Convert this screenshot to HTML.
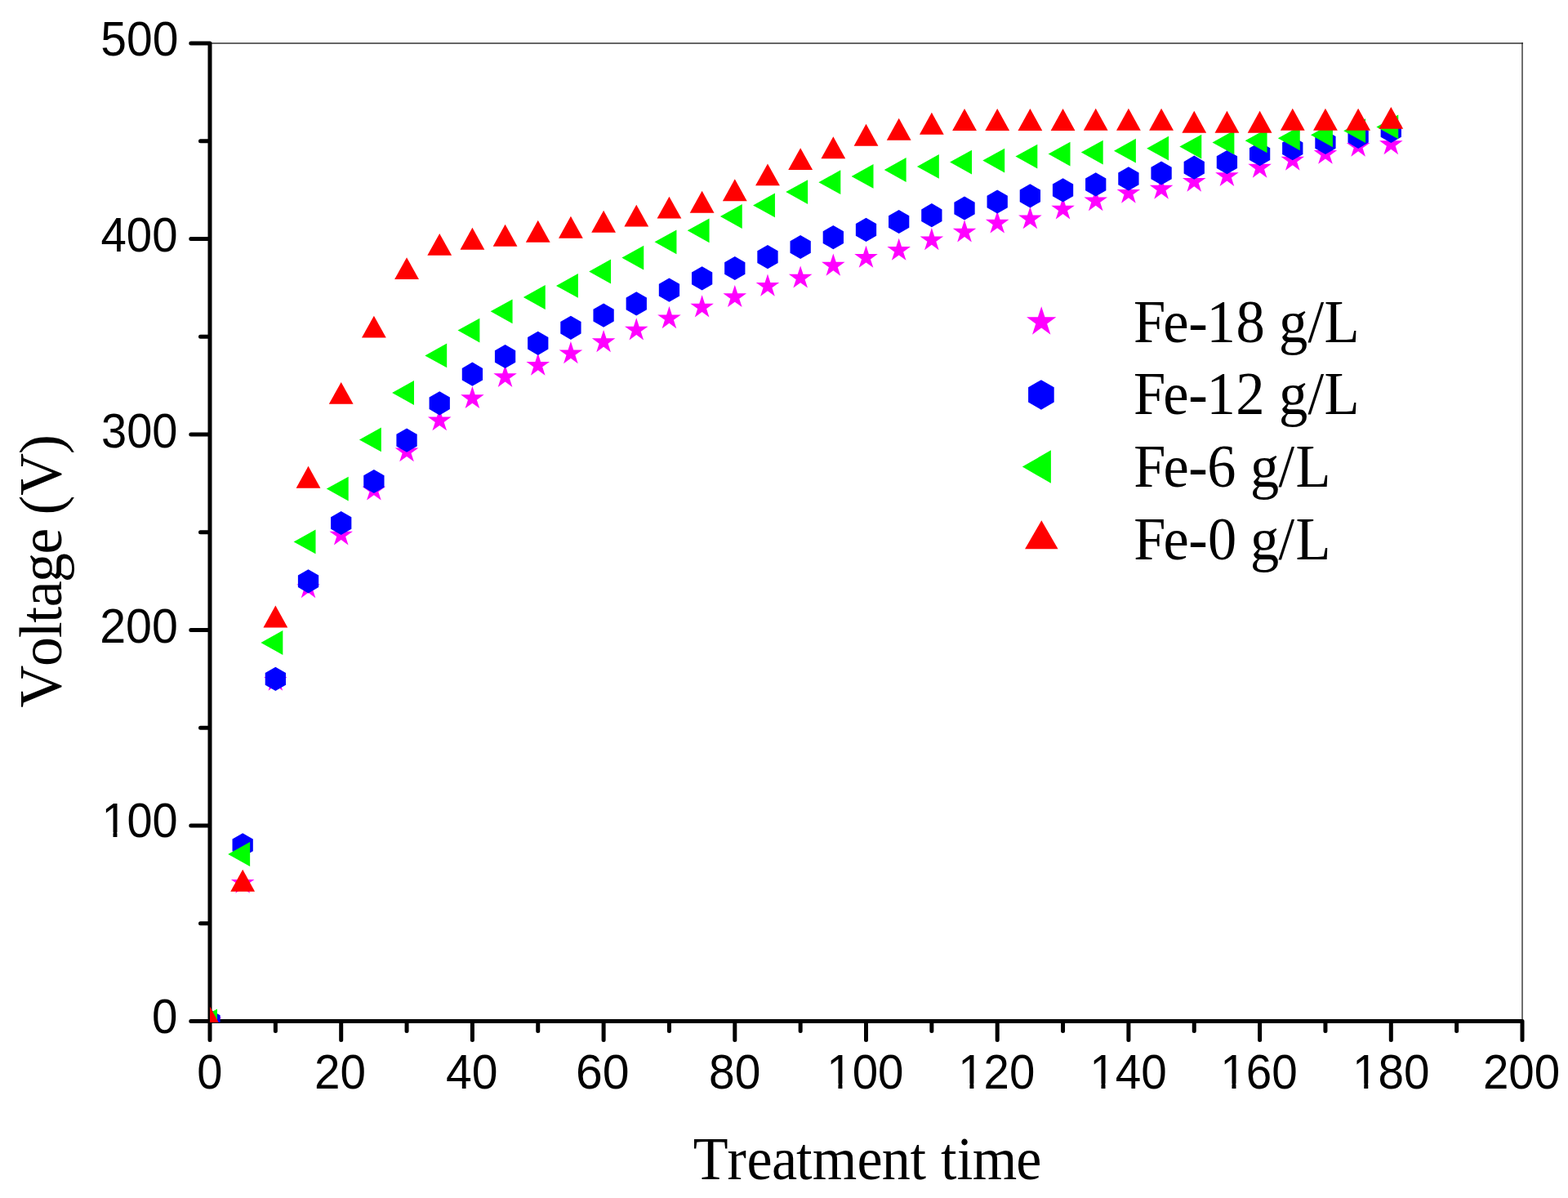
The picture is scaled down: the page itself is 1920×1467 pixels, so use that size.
<!DOCTYPE html><html><head><meta charset="utf-8"><title>Voltage vs Treatment time</title><style>
html,body{margin:0;padding:0;background:#fff;}body{width:1920px;height:1467px;overflow:hidden;}svg{display:block;}
.sans{font-family:"Liberation Sans",Arial,sans-serif;}.serif{font-family:"Liberation Serif","Times New Roman",serif;}
</style></head><body>
<svg width="1920" height="1467" viewBox="0 0 1920 1467">
<rect width="1920" height="1467" fill="#fff"/>
<defs><clipPath id="pc"><rect x="257" y="40" width="1620" height="1212"/></clipPath></defs>
<rect x="257" y="52" width="1607" height="2" fill="#666"/>
<rect x="1863" y="52" width="2" height="1197" fill="#6e6e6e"/>
<rect x="1863" y="52" width="2" height="2" fill="#3c3c3c"/>
<path d="M257 53.1V1250.5H1864 M233.8 1250.5 H257 M245.5 1130.75 H257 M233.8 1011 H257 M245.5 891.25 H257 M233.8 771.5 H257 M245.5 651.75 H257 M233.8 532 H257 M245.5 412.25 H257 M233.8 292.5 H257 M245.5 172.75 H257 M233.8 53.1 H257 M257 1250.5 V1273.6 M337.35 1250.5 V1262.6 M417.7 1250.5 V1273.6 M498.05 1250.5 V1262.6 M578.4 1250.5 V1273.6 M658.75 1250.5 V1262.6 M739.1 1250.5 V1273.6 M819.45 1250.5 V1262.6 M899.8 1250.5 V1273.6 M980.15 1250.5 V1262.6 M1060.5 1250.5 V1273.6 M1140.85 1250.5 V1262.6 M1221.2 1250.5 V1273.6 M1301.55 1250.5 V1262.6 M1381.9 1250.5 V1273.6 M1462.25 1250.5 V1262.6 M1542.6 1250.5 V1273.6 M1622.95 1250.5 V1262.6 M1703.3 1250.5 V1273.6 M1783.65 1250.5 V1262.6 M1864 1250.5 V1273.6" fill="none" stroke="#000" stroke-width="5" stroke-linecap="round" stroke-linejoin="round"/>
<defs><clipPath id="nofoot" clipPathUnits="userSpaceOnUse"><path clip-rule="evenodd" d="M-50 -120H400V80H-50Z M2.58 -6.17H14.79V20H2.58Z M19.98 -6.17H31.58V20H19.98Z"/></clipPath></defs>
<g fill="#000">
<text class="sans" font-size="58.8" transform="translate(241.32 1332.9) scale(0.9536 1)">0</text>
<text class="sans" font-size="58.8" transform="translate(385.11 1332.9) scale(0.9626 1)">20</text>
<text class="sans" font-size="58.8" transform="translate(546.04 1332.9) scale(0.9714 1)">40</text>
<text class="sans" font-size="58.8" transform="translate(704.99 1332.9) scale(1.0042 1)">60</text>
<text class="sans" font-size="58.8" transform="translate(868.07 1332.9) scale(0.9675 1)">80</text>
<text class="sans" font-size="58.8" transform="translate(1012.23 1332.9) scale(0.9611 1)" clip-path="url(#nofoot)">100</text>
<text class="sans" font-size="58.8" transform="translate(1173.24 1332.9) scale(0.9584 1)" clip-path="url(#nofoot)">120</text>
<text class="sans" font-size="58.8" transform="translate(1334.22 1332.9) scale(0.9639 1)" clip-path="url(#nofoot)">140</text>
<text class="sans" font-size="58.8" transform="translate(1494.22 1332.9) scale(0.9639 1)" clip-path="url(#nofoot)">160</text>
<text class="sans" font-size="58.8" transform="translate(1655.99 1332.9) scale(0.9645 1)" clip-path="url(#nofoot)">180</text>
<text class="sans" font-size="58.8" transform="translate(1815.92 1332.9) scale(0.9615 1)">200</text>
<text class="sans" font-size="58.8" transform="translate(186.08 1265) scale(0.9612 1)">0</text>
<text class="sans" font-size="58.8" transform="translate(124.45 1025.1) scale(0.9506 1)" clip-path="url(#nofoot)">100</text>
<text class="sans" font-size="58.8" transform="translate(122.26 787.3) scale(0.9743 1)">200</text>
<text class="sans" font-size="58.8" transform="translate(124.1 547.5) scale(0.9522 1)">300</text>
<text class="sans" font-size="58.8" transform="translate(123.46 307.7) scale(0.9585 1)">400</text>
<text class="sans" font-size="58.8" transform="translate(123.26 67.7) scale(0.9693 1)">500</text>
<text class="serif" font-size="73.6" transform="translate(1387.08 419) scale(0.9594 1)" x="1.09 38.87 71.01 94.36 131.91 168.71 186.48 223.42 244.47">Fe-18 g/L</text>
<text class="serif" font-size="73.6" transform="translate(1387.08 507.2) scale(0.9594 1)" x="1.09 38.87 71.01 94.36 131.60 168.40 186.48 223.42 244.47">Fe-12 g/L</text>
<text class="serif" font-size="73.6" transform="translate(1387.09 595.9) scale(0.9562 1)" x="1.15 39.05 71.28 95.43 132.23 150.57 186.60 208.44">Fe-6 g/L</text>
<text class="serif" font-size="73.6" transform="translate(1387.09 685) scale(0.9562 1)" x="1.15 39.05 71.28 96.13 132.93 150.57 186.60 208.44">Fe-0 g/L</text>
<text class="serif" font-size="73.6" transform="translate(849.05 1443.9) scale(0.9530 1)" x="-0.23 43.42 68.76 100.66 132.28 152.97 210.31 242.11 278.45 298.90 317.90 338.54 358.52 414.81">Treatment time</text>
<text class="serif" font-size="73.6" transform="translate(75.3 867.39) rotate(-90) scale(0.9756 1)" x="0.98 52.72 88.27 107.19 127.29 158.34 193.52 226.18 242.84 267.28 319.14">Voltage (V)</text>
</g>
<g clip-path="url(#pc)">
<g fill="#f0f">
<polygon points="257,1235.5 260.37,1245.86 271.27,1245.86 262.45,1252.27 265.82,1262.64 257,1256.23 248.18,1262.64 251.55,1252.27 242.73,1245.86 253.63,1245.86"/>
<polygon points="297.18,1066.6 300.54,1076.96 311.44,1076.96 302.62,1083.37 305.99,1093.74 297.18,1087.33 288.36,1093.74 291.73,1083.37 282.91,1076.96 293.81,1076.96"/>
<polygon points="337.35,818.6 340.72,828.96 351.62,828.96 342.8,835.37 346.17,845.74 337.35,839.33 328.53,845.74 331.9,835.37 323.08,828.96 333.98,828.96"/>
<polygon points="377.52,705.1 380.89,715.46 391.79,715.46 382.97,721.87 386.34,732.24 377.52,725.83 368.71,732.24 372.08,721.87 363.26,715.46 374.16,715.46"/>
<polygon points="417.7,640.3 421.07,650.66 431.97,650.66 423.15,657.07 426.52,667.44 417.7,661.03 408.88,667.44 412.25,657.07 403.43,650.66 414.33,650.66"/>
<polygon points="457.88,585.4 461.24,595.76 472.14,595.76 463.32,602.17 466.69,612.54 457.88,606.13 449.06,612.54 452.43,602.17 443.61,595.76 454.51,595.76"/>
<polygon points="498.05,538.2 501.42,548.56 512.32,548.56 503.5,554.97 506.87,565.34 498.05,558.93 489.23,565.34 492.6,554.97 483.78,548.56 494.68,548.56"/>
<polygon points="538.23,500.2 541.59,510.56 552.49,510.56 543.67,516.97 547.04,527.34 538.23,520.93 529.41,527.34 532.78,516.97 523.96,510.56 534.86,510.56"/>
<polygon points="578.4,472.9 581.77,483.26 592.67,483.26 583.85,489.67 587.22,500.04 578.4,493.63 569.58,500.04 572.95,489.67 564.13,483.26 575.03,483.26"/>
<polygon points="618.58,446.8 621.94,457.16 632.84,457.16 624.02,463.57 627.39,473.94 618.58,467.53 609.76,473.94 613.13,463.57 604.31,457.16 615.21,457.16"/>
<polygon points="658.75,432.6 662.12,442.96 673.02,442.96 664.2,449.37 667.57,459.74 658.75,453.33 649.93,459.74 653.3,449.37 644.48,442.96 655.38,442.96"/>
<polygon points="698.92,418.1 702.29,428.46 713.19,428.46 704.37,434.87 707.74,445.24 698.92,438.83 690.11,445.24 693.48,434.87 684.66,428.46 695.56,428.46"/>
<polygon points="739.1,404 742.47,414.36 753.37,414.36 744.55,420.77 747.92,431.14 739.1,424.73 730.28,431.14 733.65,420.77 724.83,414.36 735.73,414.36"/>
<polygon points="779.27,389.3 782.64,399.66 793.54,399.66 784.72,406.07 788.09,416.44 779.27,410.03 770.46,416.44 773.83,406.07 765.01,399.66 775.91,399.66"/>
<polygon points="819.45,375.1 822.82,385.46 833.72,385.46 824.9,391.87 828.27,402.24 819.45,395.83 810.63,402.24 814,391.87 805.18,385.46 816.08,385.46"/>
<polygon points="859.62,361.3 862.99,371.66 873.89,371.66 865.07,378.07 868.44,388.44 859.62,382.03 850.81,388.44 854.18,378.07 845.36,371.66 856.26,371.66"/>
<polygon points="899.8,348.9 903.17,359.26 914.07,359.26 905.25,365.67 908.62,376.04 899.8,369.63 890.98,376.04 894.35,365.67 885.53,359.26 896.43,359.26"/>
<polygon points="939.98,335.6 943.34,345.96 954.24,345.96 945.42,352.37 948.79,362.74 939.98,356.33 931.16,362.74 934.53,352.37 925.71,345.96 936.61,345.96"/>
<polygon points="980.15,325.4 983.52,335.76 994.42,335.76 985.6,342.17 988.97,352.54 980.15,346.13 971.33,352.54 974.7,342.17 965.88,335.76 976.78,335.76"/>
<polygon points="1020.33,310.5 1023.69,320.86 1034.59,320.86 1025.77,327.27 1029.14,337.64 1020.33,331.23 1011.51,337.64 1014.88,327.27 1006.06,320.86 1016.96,320.86"/>
<polygon points="1060.5,300.7 1063.87,311.06 1074.77,311.06 1065.95,317.47 1069.32,327.84 1060.5,321.43 1051.68,327.84 1055.05,317.47 1046.23,311.06 1057.13,311.06"/>
<polygon points="1100.68,291.7 1104.04,302.06 1114.94,302.06 1106.12,308.47 1109.49,318.84 1100.68,312.43 1091.86,318.84 1095.23,308.47 1086.41,302.06 1097.31,302.06"/>
<polygon points="1140.85,279.1 1144.22,289.46 1155.12,289.46 1146.3,295.87 1149.67,306.24 1140.85,299.83 1132.03,306.24 1135.4,295.87 1126.58,289.46 1137.48,289.46"/>
<polygon points="1181.03,269.3 1184.39,279.66 1195.29,279.66 1186.47,286.07 1189.84,296.44 1181.03,290.03 1172.21,296.44 1175.58,286.07 1166.76,279.66 1177.66,279.66"/>
<polygon points="1221.2,258.4 1224.57,268.76 1235.47,268.76 1226.65,275.17 1230.02,285.54 1221.2,279.13 1212.38,285.54 1215.75,275.17 1206.93,268.76 1217.83,268.76"/>
<polygon points="1261.38,253.2 1264.74,263.56 1275.64,263.56 1266.82,269.97 1270.19,280.34 1261.38,273.93 1252.56,280.34 1255.93,269.97 1247.11,263.56 1258.01,263.56"/>
<polygon points="1301.55,241.3 1304.92,251.66 1315.82,251.66 1307,258.07 1310.37,268.44 1301.55,262.03 1292.73,268.44 1296.1,258.07 1287.28,251.66 1298.18,251.66"/>
<polygon points="1341.72,231.1 1345.09,241.46 1355.99,241.46 1347.17,247.87 1350.54,258.24 1341.72,251.83 1332.91,258.24 1336.28,247.87 1327.46,241.46 1338.36,241.46"/>
<polygon points="1381.9,221.6 1385.27,231.96 1396.17,231.96 1387.35,238.37 1390.72,248.74 1381.9,242.33 1373.08,248.74 1376.45,238.37 1367.63,231.96 1378.53,231.96"/>
<polygon points="1422.08,216.5 1425.44,226.86 1436.34,226.86 1427.52,233.27 1430.89,243.64 1422.08,237.23 1413.26,243.64 1416.63,233.27 1407.81,226.86 1418.71,226.86"/>
<polygon points="1462.25,207.6 1465.62,217.96 1476.52,217.96 1467.7,224.37 1471.07,234.74 1462.25,228.33 1453.43,234.74 1456.8,224.37 1447.98,217.96 1458.88,217.96"/>
<polygon points="1502.42,200.8 1505.79,211.16 1516.69,211.16 1507.87,217.57 1511.24,227.94 1502.42,221.53 1493.61,227.94 1496.98,217.57 1488.16,211.16 1499.06,211.16"/>
<polygon points="1542.6,190.5 1545.97,200.86 1556.87,200.86 1548.05,207.27 1551.42,217.64 1542.6,211.23 1533.78,217.64 1537.15,207.27 1528.33,200.86 1539.23,200.86"/>
<polygon points="1582.78,181.5 1586.14,191.86 1597.04,191.86 1588.22,198.27 1591.59,208.64 1582.78,202.23 1573.96,208.64 1577.33,198.27 1568.51,191.86 1579.41,191.86"/>
<polygon points="1622.95,173.7 1626.32,184.06 1637.22,184.06 1628.4,190.47 1631.77,200.84 1622.95,194.43 1614.13,200.84 1617.5,190.47 1608.68,184.06 1619.58,184.06"/>
<polygon points="1663.12,164.6 1666.49,174.96 1677.39,174.96 1668.57,181.37 1671.94,191.74 1663.12,185.33 1654.31,191.74 1657.68,181.37 1648.86,174.96 1659.76,174.96"/>
<polygon points="1703.3,162 1706.67,172.36 1717.57,172.36 1708.75,178.77 1712.12,189.14 1703.3,182.73 1694.48,189.14 1697.85,178.77 1689.03,172.36 1699.93,172.36"/>
</g><g fill="#00f">
<polygon points="257,1235.9 269.64,1243.2 269.64,1257.8 257,1265.1 244.36,1257.8 244.36,1243.2"/>
<polygon points="297.18,1020.3 309.82,1027.6 309.82,1042.2 297.18,1049.5 284.53,1042.2 284.53,1027.6"/>
<polygon points="337.35,816.8 349.99,824.1 349.99,838.7 337.35,846 324.71,838.7 324.71,824.1"/>
<polygon points="377.52,697.2 390.17,704.5 390.17,719.1 377.52,726.4 364.88,719.1 364.88,704.5"/>
<polygon points="417.7,625.9 430.34,633.2 430.34,647.8 417.7,655.1 405.06,647.8 405.06,633.2"/>
<polygon points="457.88,574.9 470.52,582.2 470.52,596.8 457.88,604.1 445.23,596.8 445.23,582.2"/>
<polygon points="498.05,524.5 510.69,531.8 510.69,546.4 498.05,553.7 485.41,546.4 485.41,531.8"/>
<polygon points="538.23,479.2 550.87,486.5 550.87,501.1 538.23,508.4 525.58,501.1 525.58,486.5"/>
<polygon points="578.4,443.6 591.04,450.9 591.04,465.5 578.4,472.8 565.76,465.5 565.76,450.9"/>
<polygon points="618.58,421.9 631.22,429.2 631.22,443.8 618.58,451.1 605.93,443.8 605.93,429.2"/>
<polygon points="658.75,405.7 671.39,413 671.39,427.6 658.75,434.9 646.11,427.6 646.11,413"/>
<polygon points="698.92,386.7 711.57,394 711.57,408.6 698.92,415.9 686.28,408.6 686.28,394"/>
<polygon points="739.1,371.5 751.74,378.8 751.74,393.4 739.1,400.7 726.46,393.4 726.46,378.8"/>
<polygon points="779.27,357.3 791.92,364.6 791.92,379.2 779.27,386.5 766.63,379.2 766.63,364.6"/>
<polygon points="819.45,340.5 832.09,347.8 832.09,362.4 819.45,369.7 806.81,362.4 806.81,347.8"/>
<polygon points="859.62,326.3 872.27,333.6 872.27,348.2 859.62,355.5 846.98,348.2 846.98,333.6"/>
<polygon points="899.8,313.9 912.44,321.2 912.44,335.8 899.8,343.1 887.16,335.8 887.16,321.2"/>
<polygon points="939.98,300 952.62,307.3 952.62,321.9 939.98,329.2 927.33,321.9 927.33,307.3"/>
<polygon points="980.15,287.9 992.79,295.2 992.79,309.8 980.15,317.1 967.51,309.8 967.51,295.2"/>
<polygon points="1020.33,276 1032.97,283.3 1032.97,297.9 1020.33,305.2 1007.68,297.9 1007.68,283.3"/>
<polygon points="1060.5,266.8 1073.14,274.1 1073.14,288.7 1060.5,296 1047.86,288.7 1047.86,274.1"/>
<polygon points="1100.68,256.9 1113.32,264.2 1113.32,278.8 1100.68,286.1 1088.03,278.8 1088.03,264.2"/>
<polygon points="1140.85,249.1 1153.49,256.4 1153.49,271 1140.85,278.3 1128.21,271 1128.21,256.4"/>
<polygon points="1181.03,240.4 1193.67,247.7 1193.67,262.3 1181.03,269.6 1168.38,262.3 1168.38,247.7"/>
<polygon points="1221.2,232.4 1233.84,239.7 1233.84,254.3 1221.2,261.6 1208.56,254.3 1208.56,239.7"/>
<polygon points="1261.38,225.3 1274.02,232.6 1274.02,247.2 1261.38,254.5 1248.73,247.2 1248.73,232.6"/>
<polygon points="1301.55,218.3 1314.19,225.6 1314.19,240.2 1301.55,247.5 1288.91,240.2 1288.91,225.6"/>
<polygon points="1341.72,211.3 1354.37,218.6 1354.37,233.2 1341.72,240.5 1329.08,233.2 1329.08,218.6"/>
<polygon points="1381.9,204.3 1394.54,211.6 1394.54,226.2 1381.9,233.5 1369.26,226.2 1369.26,211.6"/>
<polygon points="1422.08,197.4 1434.72,204.7 1434.72,219.3 1422.08,226.6 1409.43,219.3 1409.43,204.7"/>
<polygon points="1462.25,190.6 1474.89,197.9 1474.89,212.5 1462.25,219.8 1449.61,212.5 1449.61,197.9"/>
<polygon points="1502.42,184 1515.07,191.3 1515.07,205.9 1502.42,213.2 1489.78,205.9 1489.78,191.3"/>
<polygon points="1542.6,174 1555.24,181.3 1555.24,195.9 1542.6,203.2 1529.96,195.9 1529.96,181.3"/>
<polygon points="1582.78,167.1 1595.42,174.4 1595.42,189 1582.78,196.3 1570.13,189 1570.13,174.4"/>
<polygon points="1622.95,159.8 1635.59,167.1 1635.59,181.7 1622.95,189 1610.31,181.7 1610.31,167.1"/>
<polygon points="1663.12,152.7 1675.77,160 1675.77,174.6 1663.12,181.9 1650.48,174.6 1650.48,160"/>
<polygon points="1703.3,145.9 1715.94,153.2 1715.94,167.8 1703.3,175.1 1690.66,167.8 1690.66,153.2"/>
</g><g fill="#0f0">
<polygon points="239.07,1250.5 265.97,1235.6 265.97,1265.4"/>
<polygon points="279.24,1046 306.14,1031.1 306.14,1060.9"/>
<polygon points="319.42,787 346.32,772.1 346.32,801.9"/>
<polygon points="359.59,663.4 386.49,648.5 386.49,678.3"/>
<polygon points="399.77,598.6 426.67,583.7 426.67,613.5"/>
<polygon points="439.94,538.4 466.84,523.5 466.84,553.3"/>
<polygon points="480.12,481 507.02,466.1 507.02,495.9"/>
<polygon points="520.29,435.4 547.19,420.5 547.19,450.3"/>
<polygon points="560.47,404.6 587.37,389.7 587.37,419.5"/>
<polygon points="600.64,381.3 627.54,366.4 627.54,396.2"/>
<polygon points="640.82,364 667.72,349.1 667.72,378.9"/>
<polygon points="680.99,349.9 707.89,335 707.89,364.8"/>
<polygon points="721.17,332.5 748.07,317.6 748.07,347.4"/>
<polygon points="761.34,315.6 788.24,300.7 788.24,330.5"/>
<polygon points="801.52,296.3 828.42,281.4 828.42,311.2"/>
<polygon points="841.69,282.3 868.59,267.4 868.59,297.2"/>
<polygon points="881.87,265 908.77,250.1 908.77,279.9"/>
<polygon points="922.04,251.4 948.94,236.5 948.94,266.3"/>
<polygon points="962.22,235.1 989.12,220.2 989.12,250"/>
<polygon points="1002.39,223.2 1029.29,208.3 1029.29,238.1"/>
<polygon points="1042.57,215.9 1069.47,201 1069.47,230.8"/>
<polygon points="1082.74,208 1109.64,193.1 1109.64,222.9"/>
<polygon points="1122.92,203.9 1149.82,189 1149.82,218.8"/>
<polygon points="1163.09,198.6 1189.99,183.7 1189.99,213.5"/>
<polygon points="1203.27,196.6 1230.17,181.7 1230.17,211.5"/>
<polygon points="1243.44,191.6 1270.34,176.7 1270.34,206.5"/>
<polygon points="1283.62,188.6 1310.52,173.7 1310.52,203.5"/>
<polygon points="1323.79,186.6 1350.69,171.7 1350.69,201.5"/>
<polygon points="1363.97,184.7 1390.87,169.8 1390.87,199.6"/>
<polygon points="1404.14,181.7 1431.04,166.8 1431.04,196.6"/>
<polygon points="1444.32,179.6 1471.22,164.7 1471.22,194.5"/>
<polygon points="1484.49,174.4 1511.39,159.5 1511.39,189.3"/>
<polygon points="1524.67,172.3 1551.57,157.4 1551.57,187.2"/>
<polygon points="1564.84,169.3 1591.74,154.4 1591.74,184.2"/>
<polygon points="1605.02,165.3 1631.92,150.4 1631.92,180.2"/>
<polygon points="1645.19,160.2 1672.09,145.3 1672.09,175.1"/>
<polygon points="1685.37,155.4 1712.27,140.5 1712.27,170.3"/>
</g><g fill="#f00">
<polygon points="257,1232.57 271.9,1259.47 242.1,1259.47"/>
<polygon points="297.18,1064.77 312.07,1091.67 282.28,1091.67"/>
<polygon points="337.35,741.57 352.25,768.47 322.45,768.47"/>
<polygon points="377.52,570.87 392.42,597.77 362.62,597.77"/>
<polygon points="417.7,467.97 432.6,494.87 402.8,494.87"/>
<polygon points="457.88,386.67 472.77,413.57 442.98,413.57"/>
<polygon points="498.05,315.17 512.95,342.07 483.15,342.07"/>
<polygon points="538.23,285.97 553.12,312.87 523.33,312.87"/>
<polygon points="578.4,278.87 593.3,305.77 563.5,305.77"/>
<polygon points="618.58,274.87 633.48,301.77 603.68,301.77"/>
<polygon points="658.75,269.77 673.65,296.67 643.85,296.67"/>
<polygon points="698.92,264.77 713.82,291.67 684.02,291.67"/>
<polygon points="739.1,257.77 754,284.67 724.2,284.67"/>
<polygon points="779.27,250.67 794.17,277.57 764.38,277.57"/>
<polygon points="819.45,240.67 834.35,267.57 804.55,267.57"/>
<polygon points="859.62,233.77 874.52,260.67 844.73,260.67"/>
<polygon points="899.8,219.27 914.7,246.17 884.9,246.17"/>
<polygon points="939.98,200.47 954.88,227.37 925.08,227.37"/>
<polygon points="980.15,181.17 995.05,208.07 965.25,208.07"/>
<polygon points="1020.33,167.27 1035.23,194.17 1005.43,194.17"/>
<polygon points="1060.5,151.87 1075.4,178.77 1045.6,178.77"/>
<polygon points="1100.68,144.87 1115.58,171.77 1085.78,171.77"/>
<polygon points="1140.85,137.87 1155.75,164.77 1125.95,164.77"/>
<polygon points="1181.03,133.07 1195.93,159.97 1166.12,159.97"/>
<polygon points="1221.2,133.07 1236.1,159.97 1206.3,159.97"/>
<polygon points="1261.38,133.07 1276.28,159.97 1246.47,159.97"/>
<polygon points="1301.55,133.07 1316.45,159.97 1286.65,159.97"/>
<polygon points="1341.72,132.87 1356.62,159.77 1326.82,159.77"/>
<polygon points="1381.9,132.87 1396.8,159.77 1367,159.77"/>
<polygon points="1422.08,132.87 1436.98,159.77 1407.17,159.77"/>
<polygon points="1462.25,135.87 1477.15,162.77 1447.35,162.77"/>
<polygon points="1502.42,135.87 1517.33,162.77 1487.52,162.77"/>
<polygon points="1542.6,135.87 1557.5,162.77 1527.7,162.77"/>
<polygon points="1582.78,132.87 1597.68,159.77 1567.88,159.77"/>
<polygon points="1622.95,132.87 1637.85,159.77 1608.05,159.77"/>
<polygon points="1663.12,132.87 1678.03,159.77 1648.22,159.77"/>
<polygon points="1703.3,130.97 1718.2,157.87 1688.4,157.87"/>
</g></g>
<polygon fill="#f0f" points="1275.2,375.13 1279.48,388.31 1293.34,388.31 1282.13,396.45 1286.41,409.63 1275.2,401.48 1263.99,409.63 1268.27,396.45 1257.06,388.31 1270.92,388.31"/>
<polygon fill="#00f" points="1274.9,465.15 1290.7,474.27 1290.7,492.52 1274.9,501.65 1259.1,492.52 1259.1,474.27"/>
<polygon fill="#0f0" points="1251.8,571.6 1286.9,551.34 1286.9,591.86"/>
<polygon fill="#f00" points="1275.3,637.2 1295.56,672.3 1255.04,672.3"/>
</svg></body></html>
